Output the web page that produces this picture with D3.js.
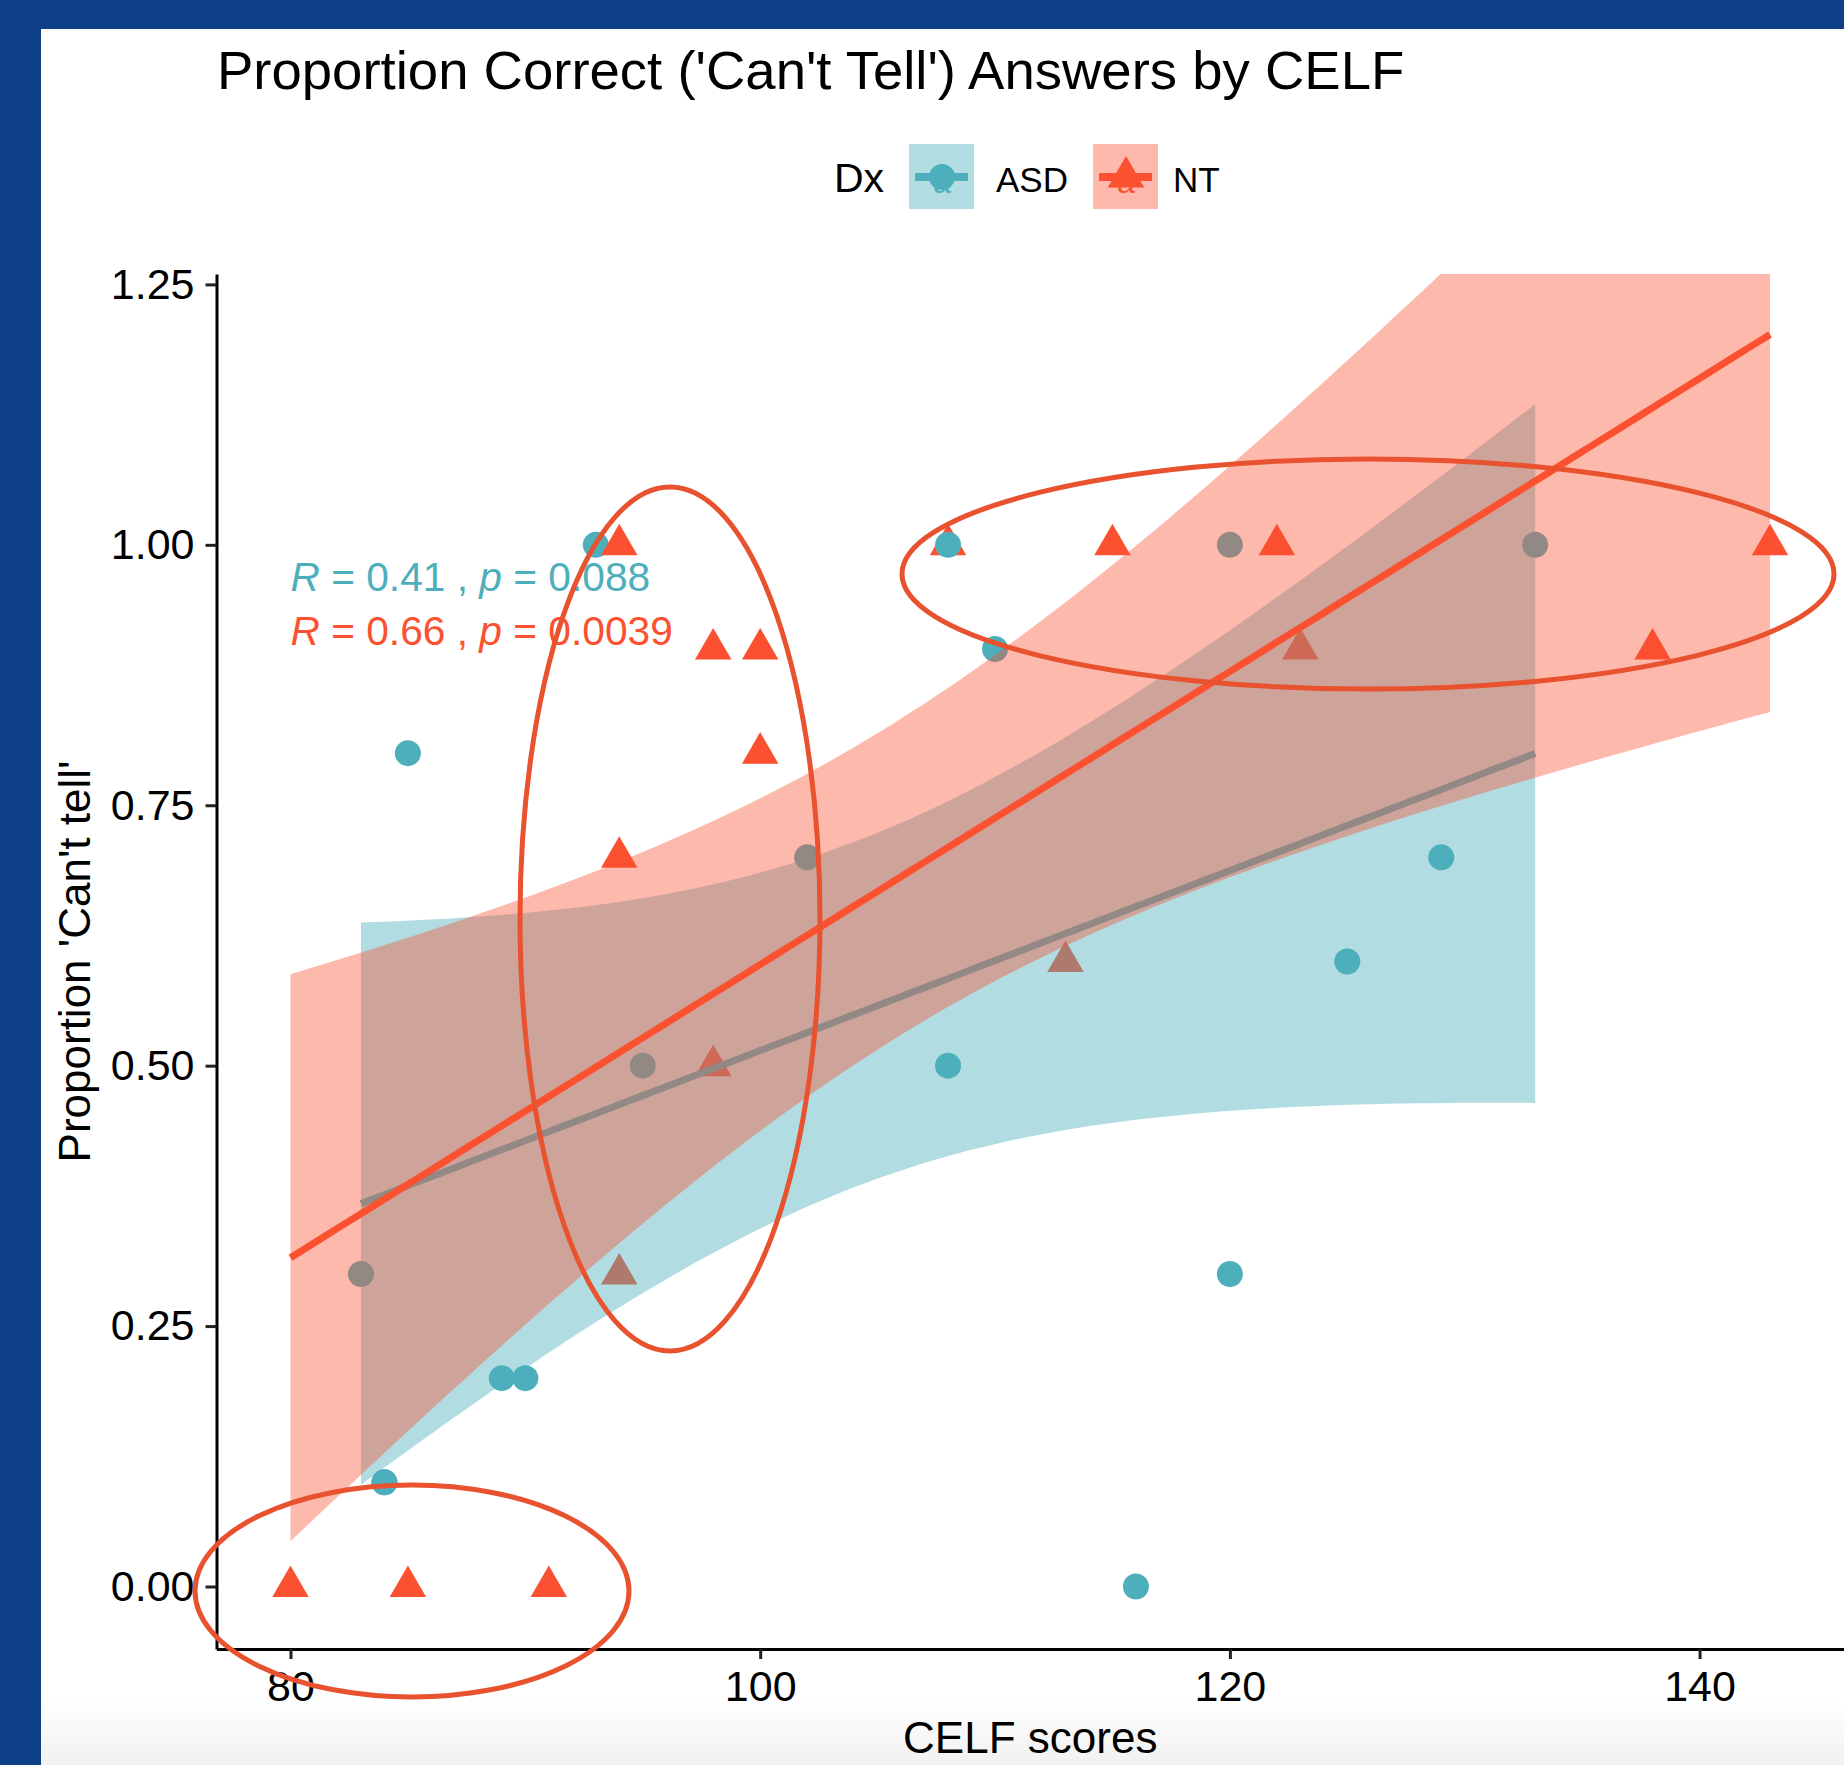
<!DOCTYPE html>
<html>
<head>
<meta charset="utf-8">
<script src="https://cdn.jsdelivr.net/npm/d3@7"></script>
<style>
body { margin: 0; background: #0f3f88; }
text { font-family: "Liberation Sans", Arial, Helvetica, sans-serif; }
</style>
</head>
<body>
<script>
// ASD group (circles) - 18 kids, two share the (84, 0.1) spot
var asd_x = [83, 84, 84, 85, 89, 90, 93, 95, 102, 108, 108, 110, 116, 120, 120, 125, 129, 133];
var asd_y = [0.3, 0.1, 0.1, 0.8, 0.2, 0.2, 1.0, 0.5, 0.7, 1.0, 0.5, 0.9, 0.0, 1.0, 0.3, 0.6, 0.7, 1.0];

// NT group (triangles)
var nt_x = [80, 85, 91, 94, 94, 94, 98, 98, 100, 100, 108, 113, 115, 122, 123, 138, 143];
var nt_y = [0.0, 0.0, 0.0, 0.3, 0.7, 1.0, 0.9, 0.5, 0.9, 0.8, 1.0, 0.6, 1.0, 1.0, 0.9, 0.9, 1.0];

var x_ticks = [80, 100, 120, 140];
var y_ticks = [0, 0.25, 0.5, 0.75, 1.0, 1.25];
var group_names = ["ASD", "NT"];
var stat_labels = [["0.41", "0.088"], ["0.66", "0.0039"]];

var asd_col = "#4eafbc";
var nt_col = "#fb5130";
var ring_col = "#e8522f";

var W = 1844, H = 1765;

var svg = d3.select("body").append("svg")
    .attr("width", W)
    .attr("height", H);

var defs = svg.append("defs");
var grad = defs.append("linearGradient").attr("id", "foot")
    .attr("x1", 0).attr("y1", 0).attr("x2", 0).attr("y2", 1);
grad.append("stop").attr("offset", "0%").attr("stop-color", "#ffffff");
grad.append("stop").attr("offset", "100%").attr("stop-color", "#f1f1f1");

// blue frame + white page
svg.append("rect").attr("width", W).attr("height", H).attr("fill", "#0f3f88");
svg.append("rect").attr("x", 41).attr("y", 29).attr("width", W - 41).attr("height", H - 29).attr("fill", "white");
svg.append("rect").attr("x", 41).attr("y", 1700).attr("width", W - 41).attr("height", H - 1700).attr("fill", "url(#foot)");

var x_scale = d3.scaleLinear()
    .domain([76.85, 146.15])
    .range([216.5, 1844]);

var y_scale = d3.scaleLinear()
    .domain([-0.06, 1.26])
    .range([1649, 274]);

defs.append("clipPath").attr("id", "panel")
    .append("rect")
    .attr("x", x_scale.range()[0])
    .attr("y", y_scale.range()[1])
    .attr("width", x_scale.range()[1] - x_scale.range()[0])
    .attr("height", y_scale.range()[0] - y_scale.range()[1]);

// linear fit with 95% confidence band (what geom_smooth(method = "lm") shows)
var t_crit = { 15: 2.13145, 16: 2.11991 };

function fit(xs, ys) {
    var n = xs.length;
    var mx = d3.mean(xs), my = d3.mean(ys);
    var sxx = d3.sum(xs, function(v) { return (v - mx) * (v - mx); });
    var sxy = d3.sum(xs, function(v, i) { return (v - mx) * (ys[i] - my); });
    var slope = sxy / sxx;
    var icpt = my - slope * mx;
    var sse = d3.sum(xs, function(v, i) { var r = ys[i] - (icpt + slope * v); return r * r; });
    var s = Math.sqrt(sse / (n - 2));
    var t = t_crit[n - 2];
    var lo = d3.min(xs), hi = d3.max(xs);
    var grid = d3.range(80).map(function(i) { return lo + i * (hi - lo) / 79; });
    return grid.map(function(gx) {
        var yhat = icpt + slope * gx;
        var se = s * Math.sqrt(1 / n + (gx - mx) * (gx - mx) / sxx);
        return { x: gx, y: yhat, lo: yhat - t * se, hi: yhat + t * se };
    });
}

var groups = [
    { name: "ASD", col: asd_col, alpha: 0.44, sym: d3.symbolCircle, size: 531,
      pts: asd_x.map(function(v, i) { return { x: v, y: asd_y[i] }; }), smooth: fit(asd_x, asd_y) },
    { name: "NT", col: nt_col, alpha: 0.40, sym: d3.symbolTriangle, size: 576,
      pts: nt_x.map(function(v, i) { return { x: v, y: nt_y[i] }; }), smooth: fit(nt_x, nt_y) }
];

// points first (bands are laid over them, as in the original)
var all_pts = [];
groups.forEach(function(g, gi) {
    g.pts.forEach(function(p) { all_pts.push({ x: p.x, y: p.y, g: gi }); });
});
all_pts.sort(function(a, b) { return a.x - b.x || b.g - a.g; });

svg.append("g").selectAll("path").data(all_pts).enter().append("path")
    .attr("transform", function(d) { return "translate(" + x_scale(d.x) + "," + y_scale(d.y) + ")"; })
    .attr("d", function(d) { return d3.symbol().type(groups[d.g].sym).size(groups[d.g].size)(); })
    .attr("fill", function(d) { return groups[d.g].col; });

var band = d3.area()
    .x(function(d) { return x_scale(d.x); })
    .y0(function(d) { return y_scale(d.lo); })
    .y1(function(d) { return y_scale(d.hi); });

var fit_line = d3.line()
    .x(function(d) { return x_scale(d.x); })
    .y(function(d) { return y_scale(d.y); });

var smooth_g = svg.append("g").attr("clip-path", "url(#panel)");
groups.forEach(function(g) {
    smooth_g.append("path")
        .attr("d", band(g.smooth))
        .attr("fill", g.col)
        .attr("fill-opacity", g.alpha);
    smooth_g.append("path")
        .attr("d", fit_line(g.smooth))
        .attr("fill", "none")
        .attr("stroke", g.col)
        .attr("stroke-width", 7);
});

// R / p labels
groups.forEach(function(g, gi) {
    var t = svg.append("text")
        .attr("x", x_scale(80))
        .attr("y", y_scale(0.956 - gi * 0.052))
        .attr("fill", g.col)
        .style("font-size", "40.7px");
    t.append("tspan").style("font-style", "italic").text("R");
    t.append("tspan").text(" = " + stat_labels[gi][0] + " , ");
    t.append("tspan").style("font-style", "italic").text("p");
    t.append("tspan").text(" = " + stat_labels[gi][1]);
});

// axes
var xAxis = d3.axisBottom(x_scale).tickValues(x_ticks).tickFormat(d3.format("d"))
    .tickSize(10).tickSizeOuter(0).tickPadding(11);
var yAxis = d3.axisLeft(y_scale).tickValues(y_ticks).tickFormat(d3.format(".2f"))
    .tickSize(11).tickSizeOuter(0).tickPadding(11);

var gx = svg.append("g")
    .attr("transform", "translate(0," + y_scale.range()[0] + ")")
    .call(xAxis);
var gy = svg.append("g")
    .attr("transform", "translate(" + x_scale.range()[0] + ",0)")
    .call(yAxis);

[gx, gy].forEach(function(a) {
    a.select(".domain").attr("stroke", "black").attr("stroke-width", 3);
    a.selectAll(".tick line").attr("stroke", "#222").attr("stroke-width", 3);
    a.selectAll(".tick text").attr("fill", "black").style("font-size", "43px")
        .style("font-family", "'Liberation Sans', Arial, sans-serif");
});

svg.append("text")
    .attr("x", (x_scale.range()[0] + x_scale.range()[1]) / 2)
    .attr("y", 1753)
    .attr("text-anchor", "middle")
    .style("font-size", "44px")
    .text("CELF scores");

svg.append("text")
    .attr("transform", "translate(90," + (y_scale.range()[0] + y_scale.range()[1]) / 2 + ") rotate(-90)")
    .attr("text-anchor", "middle")
    .style("font-size", "44px")
    .text("Proportion 'Can't tell'");

svg.append("text")
    .attr("x", 217)
    .attr("y", 89)
    .style("font-size", "54.5px")
    .text("Proportion Correct ('Can't Tell') Answers by CELF");

// legend
var legend = svg.append("g");
legend.append("text").attr("x", 834).attr("y", 192).style("font-size", "41px").text("Dx");

var key_x = [909, 1093];
var label_x = [996, 1173];
groups.forEach(function(g, gi) {
    var k = legend.append("g").attr("transform", "translate(" + key_x[gi] + ",144)");
    k.append("rect").attr("width", 65).attr("height", 65).attr("fill", g.col).attr("fill-opacity", g.alpha);
    k.append("text").attr("x", 33).attr("y", 49).attr("text-anchor", "middle")
        .attr("fill", g.col).style("font-size", "32px").text("a");
    k.append("line").attr("x1", 6).attr("x2", 59).attr("y1", 33).attr("y2", 33)
        .attr("stroke", g.col).attr("stroke-width", 8);
    k.append("path").attr("transform", "translate(33,33)")
        .attr("d", d3.symbol().type(g.sym).size(g.size)())
        .attr("fill", g.col);
    legend.append("text").attr("x", label_x[gi]).attr("y", 192).style("font-size", "35px").text(group_names[gi]);
});

// hand-drawn highlight rings
var rings = [
    { cx: 670, cy: 919, rx: 150, ry: 432 },
    { cx: 1368, cy: 574, rx: 466, ry: 115 },
    { cx: 412, cy: 1591, rx: 217, ry: 106 }
];
svg.append("g").selectAll("ellipse").data(rings).enter().append("ellipse")
    .attr("cx", function(d) { return d.cx; })
    .attr("cy", function(d) { return d.cy; })
    .attr("rx", function(d) { return d.rx; })
    .attr("ry", function(d) { return d.ry; })
    .attr("fill", "none")
    .attr("stroke", ring_col)
    .attr("stroke-width", 5);
</script>
</body>
</html>
